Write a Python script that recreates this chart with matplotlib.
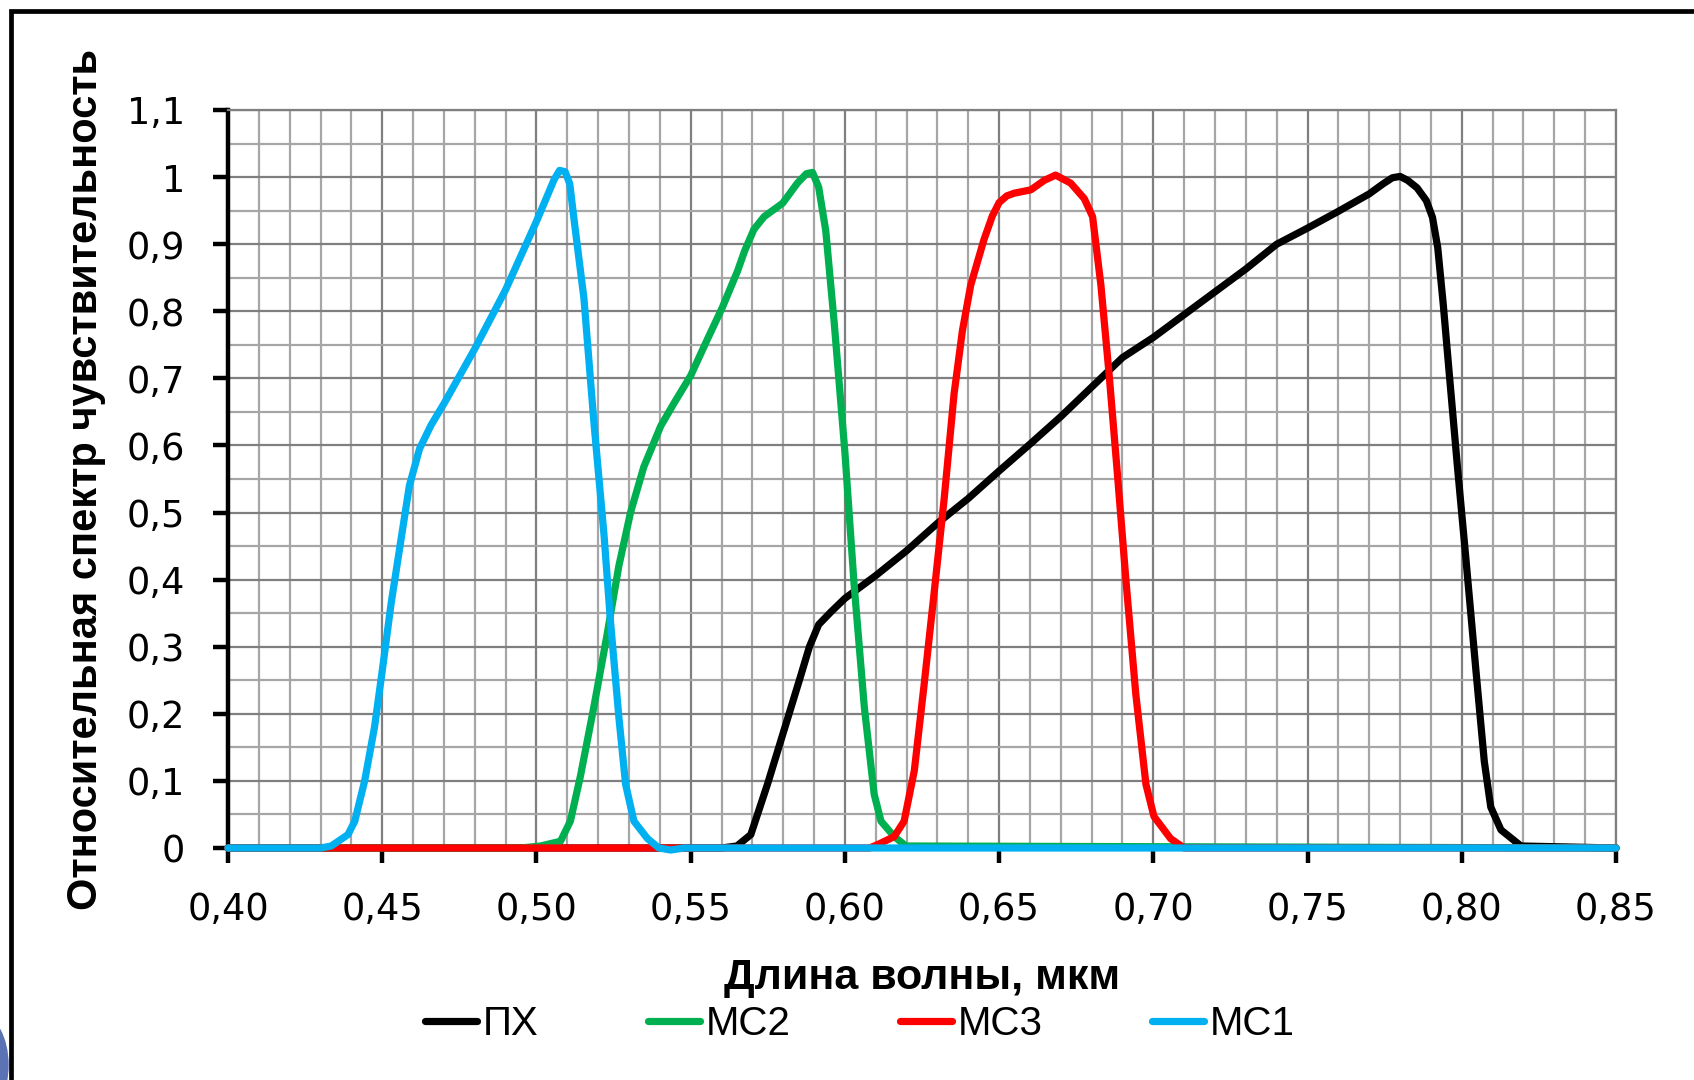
import matplotlib
matplotlib.use('Agg')
import matplotlib.pyplot as plt
from matplotlib.ticker import FixedLocator, MultipleLocator, FuncFormatter
from matplotlib.patches import Rectangle, Ellipse

# wavelength (um) and relative sensitivity
px_x = [0.40, 0.56, 0.565, 0.5695, 0.5749, 0.5803, 0.5857, 0.5885, 0.5915, 0.5955, 0.60, 0.61,
        0.62, 0.63, 0.64, 0.65, 0.66, 0.67, 0.68, 0.69, 0.70, 0.71, 0.72, 0.73, 0.74, 0.75,
        0.76, 0.77, 0.7745, 0.7775, 0.7800, 0.7825, 0.7855, 0.7885, 0.7905, 0.7922, 0.7940,
        0.796, 0.7986, 0.8013, 0.8046, 0.8073, 0.8094, 0.8127, 0.8192, 0.85]
px_y = [0, 0, 0.003, 0.02, 0.095, 0.176, 0.257, 0.300, 0.333, 0.352, 0.372, 0.406, 0.443,
        0.484, 0.521, 0.562, 0.602, 0.643, 0.687, 0.731, 0.761, 0.795, 0.829, 0.863, 0.90,
        0.924, 0.949, 0.975, 0.990, 0.999, 1.001, 0.995, 0.984, 0.965, 0.940, 0.895, 0.810,
        0.704, 0.568, 0.433, 0.264, 0.129, 0.061, 0.027, 0.003, 0]

mc2_x = [0.40, 0.495, 0.5013, 0.5078, 0.511, 0.5143, 0.5186, 0.5229, 0.5267, 0.5305, 0.5348,
         0.5403, 0.5446, 0.55, 0.5554, 0.5603, 0.5652, 0.5675, 0.5705, 0.5738, 0.5798, 0.5846,
         0.5875, 0.5895, 0.5915, 0.5938, 0.5965, 0.60, 0.603, 0.6063, 0.6095, 0.6117, 0.616,
         0.6198, 0.85]
mc2_y = [0, 0, 0.003, 0.01, 0.04, 0.108, 0.21, 0.318, 0.42, 0.50, 0.568, 0.629, 0.663, 0.704,
         0.758, 0.806, 0.86, 0.89, 0.922, 0.941, 0.961, 0.991, 1.005, 1.007, 0.985, 0.92,
         0.785, 0.59, 0.392, 0.21, 0.08, 0.04, 0.017, 0.003, 0]

mc3_x = [0.40, 0.608, 0.6106, 0.616, 0.6192, 0.6225, 0.6257, 0.6289, 0.6322, 0.6354, 0.6381,
         0.6408, 0.6451, 0.6478, 0.65, 0.6525, 0.6549, 0.6603, 0.6646, 0.6683, 0.6732, 0.6776,
         0.6803, 0.683, 0.6857, 0.6884, 0.6911, 0.6943, 0.6976, 0.7002, 0.7056, 0.71, 0.85]
mc3_y = [0, 0, 0.005, 0.017, 0.04, 0.115, 0.244, 0.379, 0.521, 0.677, 0.771, 0.839, 0.907,
         0.942, 0.962, 0.972, 0.976, 0.981, 0.995, 1.003, 0.991, 0.968, 0.941, 0.839, 0.704,
         0.555, 0.40, 0.23, 0.095, 0.047, 0.014, 0, 0]

mc1_x = [0.40, 0.43, 0.4335, 0.4389, 0.4411, 0.4443, 0.4475, 0.45, 0.4529, 0.4561, 0.4588,
         0.4621, 0.4658, 0.4701, 0.48, 0.49, 0.50, 0.5025, 0.5057, 0.5075, 0.5093, 0.5108,
         0.5121, 0.5154, 0.5186, 0.5219, 0.524, 0.5267, 0.5289, 0.5316, 0.536, 0.5397, 0.5435,
         0.548, 0.85]
mc1_y = [0, 0, 0.003, 0.02, 0.04, 0.10, 0.18, 0.264, 0.365, 0.46, 0.54, 0.595, 0.63, 0.663,
         0.744, 0.832, 0.934, 0.961, 0.996, 1.010, 1.008, 0.990, 0.94, 0.819, 0.636, 0.467,
         0.338, 0.196, 0.095, 0.04, 0.014, 0.0, -0.003, 0, 0]

series = [('ПХ', px_x, px_y, '#000000'),
          ('МС2', mc2_x, mc2_y, '#00B050'),
          ('МС3', mc3_x, mc3_y, '#FF0000'),
          ('МС1', mc1_x, mc1_y, '#00B0F0')]

x_ticks = [0.40, 0.45, 0.50, 0.55, 0.60, 0.65, 0.70, 0.75, 0.80, 0.85]
y_ticks = [0, 0.1, 0.2, 0.3, 0.4, 0.5, 0.6, 0.7, 0.8, 0.9, 1.0, 1.1]

W, H = 1694, 1080
fig = plt.figure(figsize=(W / 100, H / 100), dpi=100)
ax = fig.add_axes([228 / W, 1 - 848 / H, (1616 - 228) / W, (848 - 110) / H])

handles = []
for name, xs, ys, col in series:
    # above the spines, so the zero level shows in colour like in Excel
    h, = ax.plot(xs, ys, color=col, lw=5.2, label=name, clip_on=False, zorder=3,
                 solid_joinstyle='round', solid_capstyle='round')
    handles.append(h)

ax.set_xlim(0.40, 0.85)
ax.set_ylim(0, 1.1)
ax.xaxis.set_major_locator(FixedLocator(x_ticks))
ax.yaxis.set_major_locator(FixedLocator(y_ticks))
ax.xaxis.set_minor_locator(MultipleLocator(0.01))
ax.yaxis.set_minor_locator(MultipleLocator(0.05))
ax.xaxis.set_major_formatter(FuncFormatter(lambda v, p: f'{v:.2f}'.replace('.', ',')))
ax.yaxis.set_major_formatter(FuncFormatter(lambda v, p: f'{v:g}'.replace('.', ',')))

ax.grid(which='major', color='#7f7f7f', lw=1.6)
ax.grid(which='minor', color='#a6a6a6', lw=1.6)
ax.set_axisbelow(True)

ax.tick_params(which='major', direction='out', length=11, width=3.2, color='black',
               labelsize=26.5, pad=20)
ax.tick_params(which='minor', length=0)

for s in ['top', 'right']:
    ax.spines[s].set_color('#7f7f7f')
    ax.spines[s].set_linewidth(1.6)
for s in ['left', 'bottom']:
    ax.spines[s].set_color('black')
    ax.spines[s].set_linewidth(3.2)

lab_font = ['Liberation Sans Narrow', 'Liberation Sans']
ax.set_xlabel('Длина волны, мкм', fontsize=31, fontweight='bold', family=lab_font)
ax.xaxis.set_label_coords(0.5, -(978 - 848) / 738)
ax.set_ylabel('Относительная спектр чувствительность', fontsize=30, fontweight='bold',
              family=lab_font)
ax.yaxis.set_label_coords(-(228 - 86) / 1388, 0.5)
ax.xaxis.label.set_va('center')
ax.yaxis.label.set_va('center')

fig.legend(handles=handles, loc='center', bbox_to_anchor=(860 / W, 1 - 1024 / H), ncol=4,
           frameon=False, prop={'family': lab_font, 'size': 29},
           handlelength=1.3, handletextpad=0.15, columnspacing=2.7)

# outer frame and the blue blob at the bottom-left
fig.add_artist(Rectangle((11 / W, -0.1), 1.2, 1.1 - 11 / H, transform=fig.transFigure,
                         fill=False, edgecolor='black', lw=3.4))
fig.add_artist(Ellipse((-20 / W, 1 - 1065 / H), 56 / W, 100 / H, transform=fig.transFigure,
                       color='#5b72b5'))

fig.savefig('out.png', dpi=100)
